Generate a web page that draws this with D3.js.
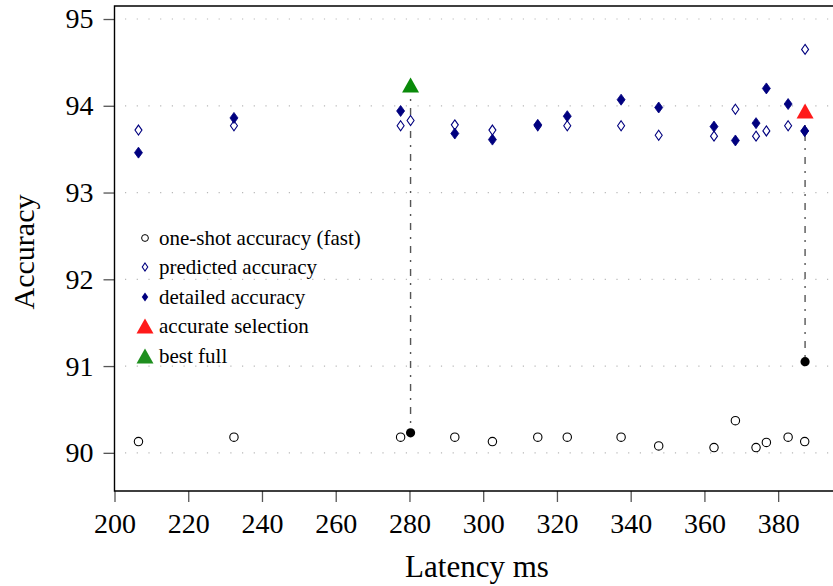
<!DOCTYPE html>
<html>
<head>
<meta charset="utf-8">
<script src="https://cdn.jsdelivr.net/npm/d3@7"></script>
<style>
  body { margin: 0; background: #fff; }
</style>
</head>
<body>
<div id="chart"></div>
<script>
var width = 833
var height = 586
var padding = {top: 6, left: 114.5, bottom: 95}

// regular configurations
var latency  = [206.5, 232.4, 277.6, 292.3, 302.5, 314.8, 322.8, 337.4, 347.6, 362.6, 368.4, 374.0, 376.8, 382.7, 387.2]
var oneShot  = [90.13, 90.18, 90.18, 90.18, 90.13, 90.18, 90.18, 90.18, 90.08, 90.06, 90.37, 90.06, 90.12, 90.18, 90.13]
var predicted = [93.72, 93.77, 93.77, 93.78, 93.72, 93.77, 93.77, 93.77, 93.66, 93.65, 93.96, 93.65, 93.71, 93.77, 93.71]
var detailed = [93.46, 93.86, 93.94, 93.68, 93.61, 93.78, 93.88, 94.07, 93.98, 93.76, 93.60, 93.80, 94.20, 94.02, 93.71]

// selected configurations: [best full, accurate selection]
var selLatency   = [280.3, 387.3]
var selPredicted = [93.83, 94.65]
var selDetailed  = [94.24, 93.94]
var selOneShot   = [90.23, 91.05]

var xTicks = [200, 220, 240, 260, 280, 300, 320, 340, 360, 380]
var yTicks = [90, 91, 92, 93, 94, 95]

var legendLabels = ["one-shot accuracy (fast)", "predicted accuracy", "detailed accuracy", "accurate selection", "best full"]

var navy = "#00007f"
var serif = '"Liberation Serif", "DejaVu Serif", serif'

var svg = d3.select('#chart')
  .append('svg')
  .attr('width', width)
  .attr('height', height)
  .style('font-family', serif)

var xScale = d3.scaleLinear().domain([200, 395]).range([padding.left, padding.left + 195 * 3.687])
var yScale = d3.scaleLinear().domain([89.56, 95.15]).range([height - padding.bottom, padding.top])

// dotted grid lines
svg.append('g').selectAll('line')
  .data(yTicks)
  .enter()
  .append('line')
  .attr('x1', padding.left).attr('x2', width)
  .attr('y1', function(d){return yScale(d)}).attr('y2', function(d){return yScale(d)})
  .attr('stroke', '#b8b8b8')
  .attr('stroke-width', 1.2)
  .attr('stroke-dasharray', '1.2,10.5')
  .attr('stroke-dashoffset', -10.5)

// axes
var yAxis = d3.axisLeft(yScale).tickValues(yTicks).tickSize(11).tickPadding(10).tickFormat(d3.format('d'))
var yG = svg.append('g')
  .attr('transform', 'translate(' + padding.left + ',0)')
  .call(yAxis)
yG.select('.domain').remove()
yG.selectAll('line').attr('stroke', '#555').attr('stroke-width', 1.3)
yG.selectAll('text').style('font-size', '28px').style('font-family', serif)

var xAxis = d3.axisBottom(xScale).tickValues(xTicks).tickSize(11).tickPadding(11)
var xG = svg.append('g')
  .attr('transform', 'translate(0,' + (height - padding.bottom) + ')')
  .call(xAxis)
xG.select('.domain').remove()
xG.selectAll('line').attr('stroke', '#555').attr('stroke-width', 1.3)
xG.selectAll('text').style('font-size', '28px').style('font-family', serif)

// frame: left, top, bottom
svg.append('path')
  .attr('d', 'M' + width + ',' + padding.top + 'H' + padding.left + 'V' + (height - padding.bottom) + 'H' + width)
  .attr('fill', 'none')
  .attr('stroke', '#000')
  .attr('stroke-width', 1.4)

// axis titles
svg.append('text')
  .attr('x', 477)
  .attr('y', 577)
  .attr('text-anchor', 'middle')
  .style('font-size', '31px')
  .style('font-family', serif)
  .text('Latency ms')

svg.append('text')
  .attr('transform', 'translate(34,252) rotate(-90)')
  .attr('text-anchor', 'middle')
  .style('font-size', '30px')
  .style('font-family', serif)
  .text('Accuracy')

// drop lines from selections to their one-shot values
svg.append('g').selectAll('line')
  .data(selLatency)
  .enter()
  .append('line')
  .attr('x1', function(d){return xScale(d)}).attr('x2', function(d){return xScale(d)})
  .attr('y1', function(d, i){return yScale(selDetailed[i])})
  .attr('y2', function(d, i){return yScale(selOneShot[i])})
  .attr('stroke', '#555')
  .attr('stroke-width', 1.4)
  .attr('stroke-dasharray', '7,7,2,7')

var diamond = function(w, h) {
  return 'M0,' + (-h/2) + 'L' + (w/2) + ',0L0,' + (h/2) + 'L' + (-w/2) + ',0Z'
}
var triangle = function(w, h) {
  return 'M0,' + (-h/2) + 'L' + (w/2) + ',' + (h/2) + 'L' + (-w/2) + ',' + (h/2) + 'Z'
}

// one-shot circles
svg.append('g').selectAll('circle')
  .data(latency)
  .enter()
  .append('circle')
  .attr('cx', function(d){return xScale(d)})
  .attr('cy', function(d, i){return yScale(oneShot[i])})
  .attr('r', 4.2)
  .attr('fill', '#fff')
  .attr('stroke', '#000')
  .attr('stroke-width', 1.1)

// predicted (hollow diamonds)
svg.append('g').selectAll('path')
  .data(latency.concat(selLatency))
  .enter()
  .append('path')
  .attr('d', diamond(7, 10))
  .attr('transform', function(d, i){
    var v = predicted.concat(selPredicted)[i]
    return 'translate(' + xScale(d) + ',' + yScale(v) + ')'
  })
  .attr('fill', '#fff')
  .attr('stroke', navy)
  .attr('stroke-width', 1.1)

// detailed (filled diamonds)
svg.append('g').selectAll('path')
  .data(latency)
  .enter()
  .append('path')
  .attr('d', diamond(8, 11))
  .attr('transform', function(d, i){return 'translate(' + xScale(d) + ',' + yScale(detailed[i]) + ')'})
  .attr('fill', navy)
  .attr('stroke', navy)
  .attr('stroke-width', 0.8)

// one-shot of selections (black dots)
svg.append('g').selectAll('circle')
  .data(selLatency)
  .enter()
  .append('circle')
  .attr('cx', function(d){return xScale(d)})
  .attr('cy', function(d, i){return yScale(selOneShot[i])})
  .attr('r', 4.6)
  .attr('fill', '#000')

// selection triangles
var triColors = ['#0a8a0a', '#ff1a1a']
svg.append('g').selectAll('path')
  .data(selLatency)
  .enter()
  .append('path')
  .attr('d', triangle(17, 15))
  .attr('transform', function(d, i){return 'translate(' + xScale(d) + ',' + yScale(selDetailed[i]) + ')'})
  .attr('fill', function(d, i){return triColors[i]})

// legend
var legend = svg.append('g')
var legendY = [238, 267, 297, 326, 356]
var rows = legend.selectAll('g')
  .data(legendLabels)
  .enter()
  .append('g')
  .attr('transform', function(d, i){return 'translate(145,' + legendY[i] + ')'})

rows.append('text')
  .attr('x', 14)
  .attr('dy', '0.33em')
  .style('font-size', '21px')
  .style('font-family', serif)
  .text(function(d){return d})

rows.filter(function(d, i){return i == 0}).append('circle')
  .attr('r', 3.4).attr('fill', '#fff').attr('stroke', '#000').attr('stroke-width', 1)
rows.filter(function(d, i){return i == 1}).append('path')
  .attr('d', diamond(5.5, 8)).attr('fill', '#fff').attr('stroke', navy).attr('stroke-width', 1.1)
rows.filter(function(d, i){return i == 2}).append('path')
  .attr('d', diamond(6.5, 9)).attr('fill', navy)
rows.filter(function(d, i){return i == 3}).append('path')
  .attr('d', triangle(17, 15)).attr('fill', '#ff1a1a')
rows.filter(function(d, i){return i == 4}).append('path')
  .attr('d', triangle(17, 15)).attr('fill', '#1f8f1f')
</script>
</body>
</html>
